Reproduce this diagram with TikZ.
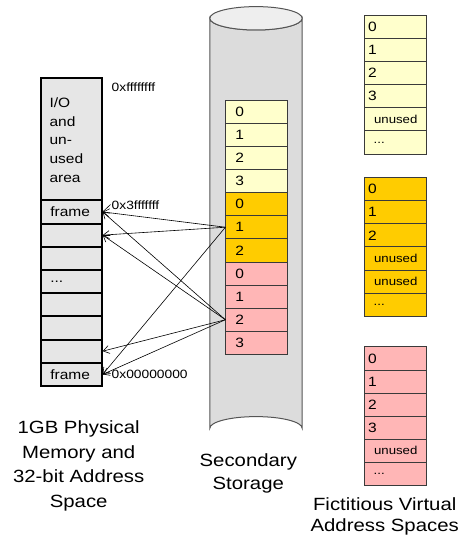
\documentclass[tikz,border=0pt]{standalone}
\usepackage{fontspec}
\setmainfont{Liberation Sans}[FakeStretch=1.15]
\usetikzlibrary{arrows.meta}
\definecolor{memgray}{HTML}{E6E6E6}
\definecolor{cylgray}{HTML}{DCDCDC}
\definecolor{cyltop}{HTML}{EEEEEE}
\definecolor{cyledge}{HTML}{555555}
\definecolor{pyellow}{HTML}{FFFFCC}
\definecolor{porange}{HTML}{FFCC00}
\definecolor{ppink}{HTML}{FFB6B6}
\definecolor{celledge}{HTML}{3A3A3A}
\newcommand\unusedtxt{\makebox[55.3pt]{\fontsize{11.5}{14}\selectfont unused}}
\newcommand\dotstxt{\hspace*{5.6pt}{\fontsize{11.5}{14}\selectfont ...}}
\newcommand\memdots{...}
\begin{document}
\begin{tikzpicture}[x=1pt,y=-1pt,
  cellfont/.style={font=\fontsize{13.5}{16}\selectfont},
  memcell/.style={draw=black, line width=2pt, fill=memgray, minimum width=60.4pt,
    minimum height=23.21pt, inner xsep=9pt, inner ysep=0pt, text width=42.4pt,
    align=left, anchor=north west, cellfont},
  stcell/.style={draw=celledge, line width=0.8pt, minimum width=61.5pt,
    minimum height=23.13pt, inner xsep=9.6pt, inner ysep=0pt, text width=42.3pt,
    align=left, anchor=north west, cellfont},
  vcell/.style={draw=celledge, line width=0.8pt, minimum width=61.9pt,
    minimum height=23.12pt, inner xsep=3.3pt, inner ysep=0pt, text width=55.3pt,
    align=left, anchor=north west, cellfont},
  addr/.style={font=\fontsize{12}{14}\selectfont, inner sep=0pt, anchor=base west},
  captext/.style={font=\fontsize{17.7}{24}\selectfont, inner sep=0pt, anchor=base},
  arr/.style={-{Straight Barb[length=6pt,width=8pt]}, line width=0.6pt},
  leader/.style={line width=0.6pt},
]
\useasboundingbox (0,0) rectangle (462,540);

% secondary storage cylinder
\path[fill=cylgray, draw=cyledge, line width=1pt]
  (209.8,18.3) -- (209.8,428.3)
  arc[start angle=180, end angle=360, x radius=46.2, y radius=11.7]
  -- (302.2,18.3)
  arc[start angle=0, end angle=180, x radius=46.2, y radius=11.7] -- cycle;
\draw[fill=cyltop, draw=cyledge, line width=1pt] (256,18.3) ellipse[x radius=46.2, y radius=11.7];

% physical memory
\node[memcell, minimum height=122.3pt] (m0) at (40.3,77) {};
\node[font=\fontsize{13.5}{18.7}\selectfont, anchor=north west, inner sep=0pt, align=left]
  (iotext) at (49.3,97.4) {I/O\\and\\un-\\used\\area};
\foreach \i/\t in {1/frame,2/{},3/{},4/\memdots,5/{},6/{},7/{},8/frame}
  \node[memcell] (m\i) at (40.3,{199.3+(\i-1)*23.21}) {\t};

% storage blocks
\foreach \i/\t/\c in {1/0/pyellow,2/1/pyellow,3/2/pyellow,4/3/pyellow,
    5/0/porange,6/1/porange,7/2/porange,
    8/0/ppink,9/1/ppink,10/2/ppink,11/3/ppink}
  \node[stcell, fill=\c] (s\i) at (225.4,{99.6+(\i-1)*23.13}) {\t};

% virtual address spaces
\foreach \i/\t in {1/0,2/1,3/2,4/3,5/\unusedtxt,6/\dotstxt}
  \node[vcell, fill=pyellow] (a\i) at (364.4,{14.9+(\i-1)*23.12}) {\t};
\foreach \i/\t in {1/0,2/1,3/2,4/\unusedtxt,5/\unusedtxt,6/\dotstxt}
  \node[vcell, fill=porange] (b\i) at (364.4,{177.1+(\i-1)*23.12}) {\t};
\foreach \i/\t in {1/0,2/1,3/2,4/3,5/\unusedtxt,6/\dotstxt}
  \node[vcell, fill=ppink] (c\i) at (364.4,{346.4+(\i-1)*23.12}) {\t};

% address labels
\node[addr] (lff) at (111.5,91.7) {0xffffffff};
\node[addr] (l3f) at (111.5,209.3) {0x3fffffff};
\node[addr] (l00) at (111.5,378.3) {0x00000000};
\coordinate (k3) at (110.5,204.5);
\coordinate (k0) at (110.5,373.5);
\draw[leader] (m1.east) -- (k3);
\draw[leader] (m8.east) -- (k0);

% mapping arrows
\draw[arr] (s6.west) -- (m1.east);
\draw[arr] (s6.west) -- (m2.east);
\draw[arr] (s6.west) -- (m8.east);
\draw[arr] (s10.west) -- (m1.east);
\draw[arr] (s10.west) -- (m2.east);
\draw[arr] (s10.west) -- (m7.east);
\draw[arr] (s10.west) -- (m8.east);

% captions
\node[captext] (mc1) at (78.7,433.3) {1GB Physical};
\node[captext] (mc2) at (78.7,458) {Memory and};
\node[captext] (mc3) at (78.7,482.7) {32-bit Address};
\node[captext] (mc4) at (78.7,507.3) {Space};
\node[captext] (sc1) at (248.3,466) {Secondary};
\node[captext] (sc2) at (248.3,489) {Storage};
\node[captext] (vc1) at (384.7,510) {Fictitious Virtual};
\node[captext] (vc2) at (384.7,531.7) {Address Spaces};
\end{tikzpicture}
\end{document}
